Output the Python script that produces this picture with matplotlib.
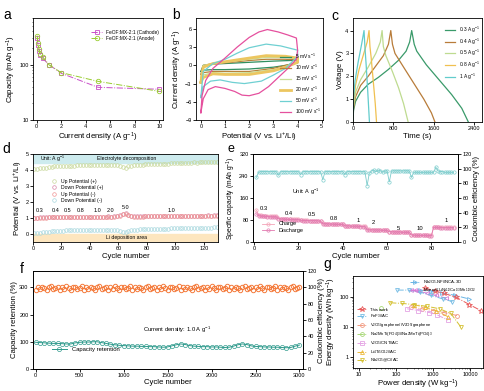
import numpy as np
import matplotlib.pyplot as plt

plt.rcParams['font.family'] = ['Liberation Sans', 'DejaVu Sans']
plt.rcParams['mathtext.default'] = 'regular'
plt.rcParams['axes.linewidth'] = 0.6
plt.rcParams['xtick.major.width'] = 0.6
plt.rcParams['ytick.major.width'] = 0.6
plt.rcParams['xtick.minor.width'] = 0.4
plt.rcParams['ytick.minor.width'] = 0.4
plt.rcParams['xtick.major.size'] = 2
plt.rcParams['ytick.major.size'] = 2
plt.rcParams['xtick.minor.size'] = 1
plt.rcParams['ytick.minor.size'] = 1
plt.rcParams['xtick.labelsize'] = 4
plt.rcParams['ytick.labelsize'] = 4
plt.rcParams['axes.labelsize'] = 5.6
plt.rcParams['axes.labelpad'] = 1.2
plt.rcParams['xtick.major.pad'] = 1.2
plt.rcParams['ytick.major.pad'] = 1.2

# ---- a: rate capability
rate_current = [0.05, 0.1, 0.2, 0.3, 0.5, 1, 2, 5, 10]
cap_cathode = [300, 230, 175, 150, 130, 100, 70, 39, 36]
cap_anode = [335, 250, 190, 158, 138, 100, 72, 50, 33]

# ---- b: CV loops (potential, current) per scan rate
cv_labels = ["5 mV s$^{-1}$", "10 mV s$^{-1}$", "15 mV s$^{-1}$",
             "20 mV s$^{-1}$", "50 mV s$^{-1}$", "100 mV s$^{-1}$"]
cv_colors = ["#2f8f5f", "#b9823a", "#c9de96", "#ecc660", "#6fd0d2", "#e5509e"]
cv_v = [
    [0, 0.1, 0.5, 1, 2, 3, 3.7, 4, 4, 3.5, 3, 2, 1, 0.5, 0.1, 0],
    [0, 0.1, 0.5, 1, 2, 2.7, 3.5, 4, 4, 3.5, 3, 2, 1, 0.5, 0.1, 0],
    [0, 0.1, 0.5, 1, 2, 2.7, 3.5, 4, 4, 3.5, 3, 2, 1, 0.5, 0.1, 0],
    [0, 0.1, 0.5, 1, 2, 2.7, 3.5, 4, 4, 3.5, 3, 2, 1, 0.5, 0.1, 0],
    [0, 0.1, 0.5, 1, 1.5, 2, 2.7, 3.3, 4, 4, 3.5, 3, 2.5, 1.8, 1.3, 0.8, 0.4, 0.1, 0],
    [0, 0.05, 0.2, 0.5, 1, 1.5, 2, 2.4, 2.75, 3.2, 3.6, 3.95, 4, 3.95, 3.6, 3.2,
     2.8, 2.4, 2, 1.7, 1.4, 1, 0.6, 0.3, 0.1, 0],
]
cv_i = [
    [-1.0, 0.0, 0.2, 0.3, 0.5, 0.7, 0.8, 0.8, 0.4, 0.0, -0.3, -0.6, -0.7, -0.7, -0.8, -1.0],
    [-1.5, 0.0, 0.3, 0.4, 0.8, 1.0, 1.0, 0.9, 0.5, 0.0, -0.5, -1.0, -1.0, -1.0, -1.2, -1.5],
    [-2.0, 0.0, 0.3, 0.5, 1.0, 1.3, 1.3, 1.1, 0.6, -0.2, -0.7, -1.2, -1.3, -1.2, -1.6, -2.0],
    [-2.8, -0.3, 0.3, 0.6, 1.2, 1.6, 1.5, 1.2, 0.5, -0.3, -0.9, -1.5, -1.5, -1.4, -2.0, -2.8],
    [-5.3, -1.0, 0.3, 1.0, 2.0, 2.9, 3.5, 3.2, 2.5, 1.5, -0.5, -1.6, -2.6, -3.0, -2.8, -2.4, -2.6, -3.5, -5.3],
    [-7.8, -5.0, -2.5, -0.5, 1.2, 3.0, 4.6, 5.5, 5.9, 5.5, 5.0, 4.5, 2.5, 1.0, -0.5, -2.0,
     -3.5, -4.6, -5.0, -4.9, -4.3, -3.8, -3.5, -4.0, -5.5, -7.8],
]

# ---- c: GCD curves
gcd_labels = ["0.3 A g$^{-1}$", "0.4 A g$^{-1}$", "0.5 A g$^{-1}$", "0.8 A g$^{-1}$", "1 A g$^{-1}$"]
gcd_colors = ["#3a9a6a", "#b87c3a", "#bedb90", "#f0c050", "#62cccc"]
gcd_t = [
    [0, 10, 50, 150, 300, 500, 700, 900, 1050, 1120, 1160, 1210, 1260, 1450, 1700, 1950, 2150, 2280],
    [0, 10, 50, 150, 300, 450, 600, 700, 747, 780, 830, 1000, 1200, 1400, 1550, 1620],
    [0, 10, 50, 150, 300, 450, 540, 575, 600, 650, 780, 900, 1000, 1090],
    [0, 10, 50, 120, 200, 280, 317, 335, 360, 400, 440, 465],
    [0, 10, 40, 100, 170, 218, 235, 260, 290, 315, 325],
]
gcd_volt = [
    [0, 0.5, 0.9, 1.3, 1.65, 1.95, 2.3, 2.7, 3.1, 3.5, 4.0, 3.4, 3.1, 2.5, 1.85, 1.2, 0.6, 0],
    [0, 0.6, 1.1, 1.6, 2.0, 2.45, 2.9, 3.4, 4.0, 3.4, 3.0, 2.4, 1.7, 1.0, 0.4, 0],
    [0, 0.7, 1.3, 1.85, 2.4, 3.0, 3.5, 4.0, 3.3, 2.9, 2.2, 1.5, 0.8, 0],
    [0, 0.9, 1.6, 2.3, 2.9, 3.5, 4.0, 3.3, 2.8, 1.8, 0.8, 0],
    [0, 1.0, 1.8, 2.6, 3.4, 4.0, 3.3, 2.5, 1.4, 0.4, 0],
]

# ---- d: potentials over cycles (every second cycle)
d_cycles = list(range(1, 131, 2))
up_pos = [4.05, 4.07, 4.10, 4.12, 4.15, 4.18, 4.20, 4.22, 4.24, 4.25,
          4.26, 4.27, 4.28, 4.27, 4.28, 4.30, 4.29, 4.30, 4.31, 4.30,
          4.30, 4.31, 4.30, 4.32, 4.31, 4.30, 4.30, 4.32, 4.31, 4.30,
          4.25, 4.18, 4.15, 4.22, 4.28, 4.30, 4.32, 4.33, 4.34, 4.35,
          4.35, 4.36, 4.36, 4.37, 4.38, 4.38, 4.38, 4.40, 4.42, 4.43,
          4.44, 4.45, 4.45, 4.46, 4.45, 4.46, 4.47, 4.46, 4.47, 4.47,
          4.47, 4.48, 4.47, 4.48, 4.48]
down_pos = [1.02, 1.03, 1.04, 1.05, 1.05, 1.05, 1.06, 1.06, 1.05, 1.06,
            1.06, 1.07, 1.06, 1.07, 1.07, 1.07, 1.08, 1.07, 1.08, 1.08,
            1.08, 1.08, 1.09, 1.08, 1.09, 1.09, 1.10, 1.09, 1.10, 1.12,
            1.18, 1.28, 1.30, 1.20, 1.12, 1.10, 1.10, 1.11, 1.10, 1.11,
            1.11, 1.12, 1.11, 1.12, 1.12, 1.12, 1.13, 1.12, 1.13, 1.13,
            1.13, 1.14, 1.13, 1.14, 1.14, 1.14, 1.15, 1.14, 1.15, 1.15,
            1.15, 1.16, 1.15, 1.16, 1.16]
up_neg = [1.00, 1.01, 1.02, 1.03, 1.03, 1.04, 1.04, 1.05, 1.04, 1.05,
          1.05, 1.05, 1.06, 1.06, 1.06, 1.06, 1.07, 1.06, 1.07, 1.07,
          1.07, 1.07, 1.08, 1.07, 1.08, 1.08, 1.08, 1.08, 1.09, 1.10,
          1.15, 1.24, 1.26, 1.17, 1.10, 1.08, 1.09, 1.09, 1.09, 1.10,
          1.10, 1.10, 1.10, 1.11, 1.11, 1.11, 1.11, 1.11, 1.12, 1.12,
          1.12, 1.12, 1.12, 1.13, 1.13, 1.13, 1.13, 1.13, 1.14, 1.14,
          1.14, 1.14, 1.14, 1.15, 1.15]
down_neg = [0.05, 0.07, 0.09, 0.11, 0.13, 0.15, 0.17, 0.18, 0.19, 0.20,
            0.21, 0.22, 0.22, 0.23, 0.23, 0.24, 0.24, 0.25, 0.25, 0.25,
            0.26, 0.26, 0.25, 0.26, 0.26, 0.25, 0.26, 0.26, 0.25, 0.22,
            0.16, 0.10, 0.12, 0.20, 0.25, 0.27, 0.28, 0.29, 0.30, 0.30,
            0.31, 0.31, 0.32, 0.32, 0.33, 0.33, 0.34, 0.34, 0.35, 0.35,
            0.36, 0.36, 0.37, 0.37, 0.37, 0.38, 0.38, 0.38, 0.39, 0.39,
            0.40, 0.40, 0.40, 0.41, 0.41]
d_rates = ["0.3", "0.4", "0.5", "0.8", "1.0", "2.0", "5.0", "1.0"]
d_rate_x = [4.7, 16, 24.6, 33.5, 45, 54.5, 65, 97]
d_rate_y = [1.45, 1.45, 1.45, 1.45, 1.45, 1.5, 1.68, 1.5]

# ---- e: rate performance (90 cycles)
e_cycles = list(range(1, 91))
charge = [116, 100, 97, 96, 95, 95, 94, 94, 93, 93,
          86, 85, 84, 84, 83, 83, 83, 82, 82, 82,
          80, 79, 79, 79, 78, 78, 78, 78, 77, 77,
          68, 67, 67, 66, 66, 66, 65, 65, 65, 65,
          60, 59, 59, 59, 58, 58, 58, 58, 57, 57,
          46, 46, 45, 45, 45, 44, 44, 44, 44, 43,
          38, 38, 37, 37, 37, 37, 36, 36, 36, 36,
          26, 26, 25, 25, 25, 25, 25, 25, 24, 24,
          54, 54, 54, 54, 53, 53, 53, 53, 53, 53]
discharge = [102, 96, 94, 93, 93, 92, 92, 91, 91, 91,
             84, 83, 83, 82, 82, 82, 81, 81, 81, 81,
             79, 78, 78, 78, 77, 77, 77, 77, 76, 76,
             66, 66, 65, 65, 65, 64, 64, 64, 64, 64,
             58, 58, 58, 57, 57, 57, 57, 56, 56, 56,
             44, 44, 44, 43, 43, 43, 43, 42, 42, 42,
             37, 37, 36, 36, 36, 36, 35, 35, 35, 35,
             25, 25, 24, 24, 24, 24, 24, 24, 23, 23,
             53, 53, 53, 52, 52, 52, 52, 52, 52, 52]
coulombic = [88, 95, 96, 96, 96, 96, 96, 96, 96, 96,
             91, 96, 96, 96, 96, 96, 96, 96, 96, 96,
             92, 96, 96, 96, 96, 96, 96, 96, 96, 96,
             85, 96, 96, 96, 96, 96, 96, 96, 96, 96,
             92, 96, 96, 96, 96, 96, 96, 96, 96, 96,
             77, 94, 97, 98, 96, 98, 97, 95, 97, 97,
             82, 97, 97, 97, 97, 97, 97, 97, 97, 97,
             88, 95, 95, 95, 95, 95, 95, 95, 95, 95,
             95, 102, 97, 96, 96, 95, 95, 95, 95, 95]
e_rates = ["0.3", "0.4", "0.5", "0.8", "1", "2", "5", "10", "1"]
e_rate_x = [4.5, 15.6, 26, 36, 46.8, 54, 65, 75, 86.5]
e_rate_y = [121, 103, 99, 86, 80, 70, 50, 48, 80]

# ---- f: long cycling
f_cycles = list(range(0, 3001, 50))
retention = [98, 97, 96, 95, 94, 94, 93, 92, 92, 96,
             98, 99, 99, 100, 100, 97, 94, 91, 89, 87,
             86, 85, 84, 84, 83, 83, 82, 82, 81, 80,
             81, 85, 89, 92, 90, 86, 84, 83, 82, 82,
             81, 81, 80, 79, 80, 84, 89, 92, 90, 85,
             83, 82, 81, 81, 80, 80, 79, 78, 79, 84, 88]
ce_cycles = list(range(0, 3001, 25))
ce_long = [97, 100, 98, 101, 99, 97, 100, 102, 98, 99, 101, 97, 100, 98, 102, 99,
           97, 101, 100, 98, 99, 102, 97, 100, 98, 101, 99, 97, 100, 102, 98, 99,
           101, 97, 100, 98, 102, 99, 97, 101, 100, 98, 99, 102, 97, 100, 98, 101,
           99, 97, 100, 102, 98, 99, 101, 97, 100, 98, 102, 99, 97, 101, 100, 98,
           99, 102, 97, 100, 98, 101, 99, 97, 100, 102, 98, 99, 101, 97, 100, 98,
           102, 99, 97, 101, 100, 98, 99, 102, 97, 100, 98, 101, 99, 97, 100, 102,
           98, 99, 101, 97, 100, 98, 102, 99, 97, 101, 100, 98, 99, 102, 97, 100,
           98, 101, 99, 97, 100, 102, 98, 99, 101]

# ---- g: Ragone plot
this_p = [600, 1100, 2000, 4200, 9500, 20000]
this_e = [195, 155, 128, 95, 55, 34]
nb_nf_p = [450, 900, 1700, 4000, 9000]
nb_nf_e = [165, 150, 135, 110, 85]
mx_p = [250, 400, 700, 1200, 2200]
mx_e = [165, 150, 130, 110, 90]
fef_p = [110, 220, 450, 900, 1800, 3300]
fef_e = [165, 165, 140, 110, 85, 69]
vg_p = [250, 500, 1000, 2000, 4400]
vg_e = [45, 40, 35, 30, 24]
na_p = [40]
na_e = [43]
vcnt_p = [200, 400, 800, 1300, 2500]
vcnt_e = [40, 35, 30, 25, 17]
lto_p = [300, 600, 1200, 2500]
lto_e = [55, 45, 35, 22]
nbc_p = [70, 150, 300, 700, 1500, 3000, 5600]
nbc_e = [63, 60, 55, 48, 40, 28, 10]

W, H = 484, 391
fig = plt.figure(figsize=(W / 100, H / 100), dpi=100)


def px_axes(l, t, r, b):
    return fig.add_axes([l / W, 1 - b / H, (r - l) / W, (b - t) / H])


def letter(x, y, s, size=10):
    fig.text(x / W, 1 - y / H, s, fontsize=size, va='baseline', ha='left')


# a
ax = px_axes(33, 18, 163, 120)
ax.plot(rate_current, cap_cathode, ls='-.', color='#c94fc9', lw=0.7, marker='s',
        ms=3, mfc='none', mew=0.6, label='FeOF:MX-2:1 (Cathode)')
ax.plot(rate_current, cap_anode, ls='-.', color='#9acd32', lw=0.7, marker='o',
        ms=3.2, mfc='none', mew=0.6, label='FeOF:MX-2:1 (Anode)')
ax.set_yscale('log')
ax.set_ylim(10, 700)
ax.set_yticks([10, 100])
ax.set_yticklabels(['10', '100'])
ax.set_xlim(-0.3, 10.3)
ax.set_xticks([0, 2, 4, 6, 8, 10])
ax.set_xlabel('Current density (A g$^{-1}$)')
ax.set_ylabel('Capacity (mAh g$^{-1}$)')
ax.legend(loc='upper right', fontsize=3.5, frameon=False, handlelength=2.2,
          labelspacing=0.3, bbox_to_anchor=(1.0, 0.93))
letter(3, 19, 'a')

# b
ax = px_axes(196, 18, 323, 120)
for v, i, c, lab in zip(cv_v, cv_i, cv_colors, cv_labels):
    lw = 2.0 if lab.startswith('20') else 0.9
    ax.plot(v, i, color=c, lw=lw, label=lab)
ax.set_xlim(-0.2, 5.05)
ax.set_ylim(-9, 7.8)
ax.set_yticks([-9, -6, -3, 0, 3, 6])
ax.set_xticks([0, 1, 2, 3, 4, 5])
ax.set_xlabel('Potential (V vs. Li$^{+}$/Li)', labelpad=0.6)
ax.set_ylabel('Current density (A g$^{-1}$)')
ax.legend(loc='lower right', fontsize=3.5, frameon=False, handlelength=2.2,
          labelspacing=0.35, bbox_to_anchor=(1.02, 0.0))
letter(172, 19, 'b')

# c
ax = px_axes(353, 18, 482, 122)
for t, v, c, lab in zip(gcd_t, gcd_volt, gcd_colors, gcd_labels):
    ax.plot(t, v, color=c, lw=0.9, label=lab)
ax.set_xlim(0, 2550)
ax.set_ylim(0, 4.55)
ax.set_xticks([0, 800, 1600, 2400])
ax.set_yticks([0, 1, 2, 3, 4])
ax.set_xlabel('Time (s)')
ax.set_ylabel('Voltage (V)')
ax.legend(loc='upper right', fontsize=3.5, frameon=False, handlelength=2.0,
          labelspacing=0.3, bbox_to_anchor=(1.02, 0.98))
letter(331, 20, 'c')

# d
ax = px_axes(33, 154, 218, 242)
ax.axhspan(4.45, 5.0, color='#cdebee', zorder=0)
ax.axhspan(-0.5, 0.0, color='#fde6bf', zorder=0)
mk = dict(marker='o', ms=2.6, mfc='none', mew=0.5, ls='none')
ax.plot(d_cycles, up_pos, color='#c8d89a', label='Up Potential (+)', **mk)
ax.plot(d_cycles, down_pos, color='#d888a8', label='Down Potential (+)', **mk)
ax.plot(d_cycles, up_neg, color='#f09494', label='Up Potential (-)', **mk)
ax.plot(d_cycles, down_neg, color='#a8d8de', label='Down Potential (-)', **mk)
for s, x, y in zip(d_rates, d_rate_x, d_rate_y):
    ax.text(x, y, s, fontsize=4, ha='center', va='center')
ax.text(5, 4.72, 'Unit: A g$^{-1}$', fontsize=3.7, va='center')
ax.text(66, 4.72, 'Electrolyte decomposition', fontsize=3.7, va='center', ha='center')
ax.text(66, -0.25, 'Li deposition area', fontsize=3.7, va='center', ha='center')
ax.set_xlim(0, 130)
ax.set_ylim(-0.5, 5)
ax.set_xticks([0, 20, 40, 60, 80, 100, 120])
ax.set_yticks([0, 1, 2, 3, 4, 5])
ax.set_xlabel('Cycle number')
ax.set_ylabel('Potential (V vs. Li$^{+}$/Li)')
ax.legend(loc='center left', fontsize=3.7, frameon=False, handletextpad=0.4,
          labelspacing=0.3, bbox_to_anchor=(0.06, 0.58))
letter(2, 153, 'd')

# e
ax = px_axes(253, 154, 458, 242)
ax.plot(e_cycles, charge, color='#f4a4b8', lw=0.6, marker='o', ms=2.4, mfc='none',
        mew=0.5, label='Charge')
ax.plot(e_cycles, discharge, color='#e27ab0', lw=0.6, marker='o', ms=2.4, mfc='none',
        mew=0.5, label='Discharge')
for s, x, y in zip(e_rates, e_rate_x, e_rate_y):
    ax.text(x, y, s, fontsize=4.2, ha='center', va='center')
ax.text(17, 183, 'Unit: A g$^{-1}$', fontsize=4, va='center')
ax.set_xlim(-0.5, 92)
ax.set_ylim(0, 320)
ax.set_yticks([0, 80, 160, 240, 320])
ax.set_xticks([0, 20, 40, 60, 80])
ax.set_xlabel('Cycle number')
ax.set_ylabel('Specific capacity (mAh g$^{-1}$)', fontsize=4.9)
ax.legend(loc='lower left', fontsize=4, frameon=False, handlelength=2.2,
          labelspacing=0.2, bbox_to_anchor=(0.02, 0.05))
ax2 = ax.twinx()
ax2.plot(e_cycles, coulombic, color='#7ccccc', lw=0.6, marker='o', ms=2.4,
         mfc='none', mew=0.5)
ax2.set_ylim(0, 120)
ax2.set_yticks([0, 20, 40, 60, 80, 100, 120])
ax2.set_ylabel('Coulombic efficiency (%)')
letter(228, 152, 'e', size=9)

# f
ax = px_axes(33, 271, 303, 369)
ax.plot(f_cycles, retention, color='#2e9a8c', lw=0.7, marker='o', ms=3, mfc='none',
        mew=0.5, label='Capacity retention')
ax.text(1605, 142, 'Current density: 1.0 A g$^{-1}$', fontsize=4.2, ha='center', va='center')
ax.set_xlim(-30, 3040)
ax.set_ylim(0, 360)
ax.set_yticks([0, 100, 200, 300])
ax.set_xticks([0, 500, 1000, 1500, 2000, 2500, 3000])
ax.set_xlabel('Cycle number', labelpad=0.5)
ax.set_ylabel('Capacity retention (%)')
ax.legend(loc='lower left', fontsize=4.2, frameon=False, handlelength=2.6,
          bbox_to_anchor=(0.05, 0.12))
ax2 = ax.twinx()
ax2.plot(ce_cycles, ce_long, color='#f47a3a', lw=0, marker='o', ms=3.2,
         mfc='none', mew=0.7)
ax2.set_ylim(0, 120)
ax2.set_yticks([0, 20, 40, 60, 80, 100, 120])
ax2.set_ylabel('Coulombic efficiency (%)', labelpad=1.0)
letter(20, 273, 'f')

# g
ax = px_axes(353, 276, 483, 368)
gk = dict(lw=0.7, ms=2.8, mfc='none', mew=0.6)
h_nbnf, = ax.plot(nb_nf_p, nb_nf_e, ls='-.', color='#6ab4e4', marker='>',
                  label='Nb$_2$O$_5$-NF//NCA-3D', **gk)
h_mx, = ax.plot(mx_p, mx_e, ls='-.', color='#d67ad6', marker='<',
                label='Mxene//LiNi$_{1/3}$Co$_{1/3}$Mn$_{1/3}$O$_2$', **gk)
h_this, = ax.plot(this_p, this_e, ls='-.', color='#e85a5a', marker='*',
                  label='This work', lw=0.7, ms=3.8, mew=0.6, mfc='none')
h_fef, = ax.plot(fef_p, fef_e, ls='-.', color='#74bce4', marker='v',
                 label='FeF$_3$//AC', **gk)
h_vg, = ax.plot(vg_p, vg_e, ls='-.', color='#f29a80', marker='o',
                label='V$_2$O$_5$/graphene//V$_2$O$_5$/graphene', **gk)
h_na, = ax.plot(na_p, na_e, ls='-.', color='#a8d878', marker='o',
                label='Na$_2$MnTi(PO$_4$)$_3$//Na$_2$MnTi(PO$_4$)$_3$', **gk)
h_vc, = ax.plot(vcnt_p, vcnt_e, ls='-.', color='#e4a4e4', marker='s',
                label='V$_2$O$_5$/CNT//AC', **gk)
h_lto, = ax.plot(lto_p, lto_e, ls='-.', color='#ecb838', marker='^',
                 label='Li$_4$Ti$_5$O$_{12}$//AC', **gk)
h_nbc, = ax.plot(nbc_p, nbc_e, ls='-.', color='#d4c030', marker='v',
                 label='Nb$_2$O$_5$@C//AC', **gk)
ax.set_xscale('log')
ax.set_yscale('log')
ax.set_xlim(7, 22000)
ax.set_ylim(0.45, 480)
ax.set_xticks([10, 100, 1000, 10000])
ax.set_xticklabels(['10', '100', '1000', '10000'])
ax.set_yticks([1, 10, 100])
ax.set_yticklabels(['1', '10', '100'])
ax.tick_params(axis='x', pad=0.8)
ax.set_xlabel('Power density (W kg$^{-1}$)', labelpad=0.3)
ax.set_ylabel('Energy density (Wh kg$^{-1}$)', labelpad=0.8)
leg1 = ax.legend(handles=[h_nbnf, h_mx], loc='upper right', fontsize=3.1,
                 frameon=False, handlelength=2.2, labelspacing=0.25,
                 bbox_to_anchor=(0.98, 1.02))
ax.add_artist(leg1)
ax.legend(handles=[h_this, h_fef, h_vg, h_na, h_vc, h_lto, h_nbc], loc='lower left',
          fontsize=3.1, frameon=False, handlelength=2.2, labelspacing=0.25,
          bbox_to_anchor=(0.0, 0.0))
letter(323, 268, 'g')

fig.savefig('out.png', dpi=100)
